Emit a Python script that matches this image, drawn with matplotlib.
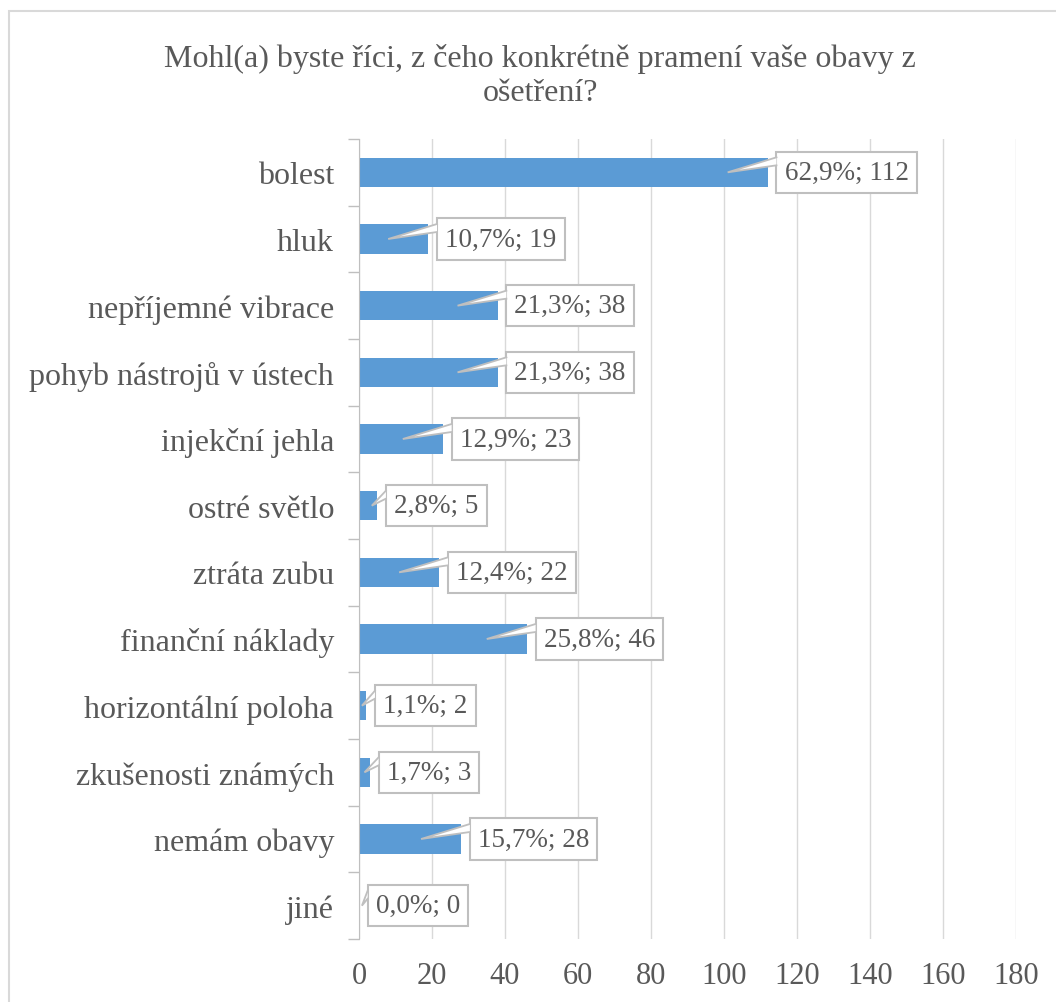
import matplotlib
matplotlib.use("Agg")
import matplotlib.pyplot as plt
from matplotlib.patches import Rectangle, Polygon

categories = ["bolest", "hluk", "nepříjemné vibrace", "pohyb nástrojů v ústech",
              "injekční jehla", "ostré světlo", "ztráta zubu", "finanční náklady",
              "horizontální poloha", "zkušenosti známých", "nemám obavy", "jiné"]
counts = [112, 19, 38, 38, 23, 5, 22, 46, 2, 3, 28, 0]
percents = [62.9, 10.7, 21.3, 21.3, 12.9, 2.8, 12.4, 25.8, 1.1, 1.7, 15.7, 0.0]
xticks = [0, 20, 40, 60, 80, 100, 120, 140, 160, 180]

title = "Mohl(a) byste říci, z čeho konkrétně pramení vaše obavy z\nošetření?"

text_col = "#595959"
bar_col = "#5b9bd5"
edge_col = "#bfbfbf"
plt.rcParams["font.family"] = ["Liberation Serif", "DejaVu Serif"]

fig = plt.figure(figsize=(10.56, 10.03), dpi=100)
W, H = 1056, 1003
ax = fig.add_axes([359 / W, 1 - 940 / H, (1016 - 359) / W, 800 / H])

# chart frame (runs off the right and bottom edge)
fig.patches.append(Rectangle((9 / W, -0.05), 1.2, 1 - 12 / H + 0.05,
                             transform=fig.transFigure, fill=False,
                             edgecolor="#d9d9d9", linewidth=1.5))

fig.text(540 / W, 1 - 76 / H, title, ha="center", va="center",
         fontsize=23, color=text_col, linespacing=1.25)

ypos = list(range(len(categories)))
ax.barh(ypos, counts, height=0.44, color=bar_col, zorder=2)

ax.set_xlim(0, 180)
ax.set_ylim(len(categories) - 0.5, -0.5)

# data labels as callouts
labels = []
for y, c, p in zip(ypos, counts, percents):
    label = f"{p:.1f}".replace(".", ",") + f"%; {c}"
    t = ax.text(c + 4.6, y, label, ha="left", va="center",
                fontsize=19.5, color=text_col, zorder=5,
                bbox=dict(boxstyle="square,pad=0.3", fc="white",
                          ec=edge_col, lw=1.5))
    labels.append(t)

fig.canvas.draw()
inv = ax.transData.inverted()
for t, y, c in zip(labels, ypos, counts):
    bb = t.get_bbox_patch().get_window_extent()
    xb = inv.transform((bb.x0, bb.y0))[0]
    tip = c - 11 if c >= 12 else max(c - 1.5, 0.8)
    top, bot = y - 0.225, y - 0.105
    ax.add_patch(Polygon([(xb, top), (xb, bot), (tip, y)], closed=True,
                         fc="white", ec="none", zorder=6))
    ax.plot([xb, tip, xb], [top, y, bot], color=edge_col, lw=1.3,
            zorder=7, solid_joinstyle="miter")

ax.set_xticks(xticks)
ax.set_yticks(ypos)
ax.set_yticklabels(categories)
ax.set_yticks([i - 0.5 for i in range(len(categories) + 1)], minor=True)
ax.tick_params(axis="y", which="major", length=0, pad=18, labelsize=23,
               labelcolor=text_col)
ax.tick_params(axis="y", which="minor", length=8, color=edge_col, width=1)
ax.tick_params(axis="x", length=0, pad=16, labelsize=22, labelcolor=text_col)
ax.grid(axis="x", color="#d9d9d9", linewidth=1, zorder=0)
ax.set_axisbelow(True)
for s in ["top", "right", "bottom"]:
    ax.spines[s].set_visible(False)
ax.spines["left"].set_color(edge_col)
ax.spines["left"].set_zorder(3)

fig.savefig("out.png", dpi=100)
